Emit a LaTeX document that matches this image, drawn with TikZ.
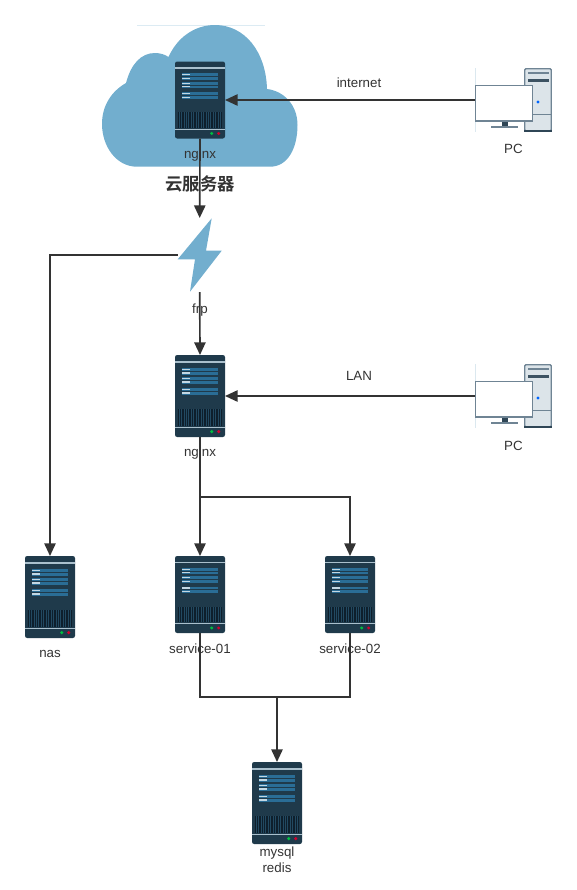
\documentclass[tikz,border=0pt]{standalone}
\usepackage{fontspec}
\setmainfont{Liberation Sans}
\newfontfamily\cjk{Noto Sans CJK SC Bold}
\usetikzlibrary{arrows.meta}
\definecolor{srvbody}{HTML}{1F3A4B}
\definecolor{srvstrip}{HTML}{2A6D96}
\definecolor{srvlight}{HTML}{C3D8E4}
\definecolor{srvdark}{HTML}{0E1F2C}
\definecolor{cloudblue}{HTML}{72AECE}
\definecolor{pcline}{HTML}{6F8494}
\definecolor{pcdark}{HTML}{2F4656}
\definecolor{pcgrey}{HTML}{DCE4E9}
\definecolor{txt}{HTML}{333333}
\tikzset{
  lbl/.style={text=txt,font=\fontsize{10pt}{12pt}\selectfont,inner sep=0pt,align=center},
  link/.style={draw=txt,line width=1.25pt},
  arrowlink/.style={link,-{Triangle[length=9.5pt,width=8.5pt]}},
}
% name, left x, top y, height
\newcommand{\srvicon}[4]{%
  \pgfmathsetmacro{\vs}{#4/82}
  \node[inner sep=0pt,outer sep=0pt,minimum width=37.5pt,minimum height=#4*0.75pt] (#1) at (#2+25,#3+#4/2) {};
  \begin{scope}[shift={(#2,#3)},yscale=\vs]
    \fill[srvbody,rounded corners=1.6pt] (0,0) rectangle (50,82);
    \fill[srvlight!85!srvbody] (0,6.3) rectangle (50,7.6);
    \fill[srvlight!85!srvbody] (0,71.6) rectangle (50,72.9);
    \foreach \t in {12.7,21.7,32.7}{
      \fill[srvstrip] (7.3,\t) rectangle (42.7,\t+2.8);
      \fill[srvstrip] (7.3,\t+3.9) rectangle (42.7,\t+6.8);
      \fill[srvlight] (7.3,\t+0.8) rectangle (14.5,\t+2);
      \fill[srvlight] (7.3,\t+4.6) rectangle (14.5,\t+5.8);
    }
    \fill[srvdark] (2.7,54) rectangle (47.3,70.7);
    \foreach \i in {0,...,17}{
      \fill[srvbody!70!srvstrip] (3.6+\i*2.45,54) rectangle (4.4+\i*2.45,70.7);
    }
    \fill[green!50!teal] (36.7,76.6) circle (1.7);
    \fill[purple!70!red] (43.7,76.6) circle (1.7);
  \end{scope}
}
% name, x offset, y offset
\newcommand{\pcicon}[3]{%
  \node[inner sep=0pt,outer sep=0pt,minimum width=57.75pt,minimum height=48pt] (#1) at (#2+513.5,#3+100) {};
  \begin{scope}[shift={(#2,#3)}]
    \draw[srvlight!60,line width=.4pt] (475,68) -- (475,132);
    \fill[pcgrey,draw=pcline,line width=1pt,rounded corners=.8pt] (524.8,68.8) rectangle (551.2,131);
    \fill[pcdark] (524,129.6) rectangle (552,132);
    \fill[pcline] (528,71.5) rectangle (548.5,74);
    \fill[pcdark!80!pcline] (528,78.5) rectangle (548.5,82);
    \draw[pcline,line width=.6pt] (524.5,114) -- (551.5,114);
    \fill[blue!60!cyan] (538,102) circle (1.7);
    \fill[pcdark] (501.5,121) rectangle (507.5,126);
    \fill[pcline] (490.5,126) rectangle (517.5,128.2);
    \fill[white,draw=pcline,line width=1.1pt] (475.7,85.5) rectangle (532.5,121);
  \end{scope}
}
\begin{document}
\begin{tikzpicture}[x=0.75pt,y=-0.75pt]
\useasboundingbox (0,0) rectangle (577,890);
% cloud
\draw[cloudblue!25,line width=.5pt] (137,25.3) -- (265,25.3);
\fill[cloudblue] (137,166.7)
  .. controls (116,166.7) and (102,146) .. (102,124)
  .. controls (102,105) and (112,91) .. (126,83)
  .. controls (131,64) and (141,53) .. (155,53)
  .. controls (160,53) and (165,54.5) .. (168.5,57)
  .. controls (177,38) and (194,25) .. (215,25)
  .. controls (245,25) and (266,52) .. (267,89)
  .. controls (284,91) and (297.5,105) .. (297.5,125)
  .. controls (297.5,148) and (288,166.7) .. (270,166.7)
  -- cycle;
% servers
\srvicon{ngxtop}{175}{61.5}{77}
\srvicon{ngxlan}{175}{355}{82}
\srvicon{nas}{25}{556}{82}
\srvicon{svcone}{175}{556}{77}
\srvicon{svctwo}{325}{556}{77}
\srvicon{db}{252}{762}{82}
% PCs
\pcicon{pcone}{0}{0}
\pcicon{pctwo}{0}{296}
% bolt
\node[inner sep=0pt,outer sep=0pt,minimum width=33pt,minimum height=55.5pt] (bolt) at (199.7,255) {};
\fill[cloudblue] (211.7,218.3) -- (177.7,259.3) -- (195,259.3) -- (190,291.7) -- (221.7,250.7) -- (206,250.7) -- cycle;
% labels
\node[lbl] (lbltop) at (200,155.5) {nginx};
\node[lbl,font=\cjk\fontsize{13pt}{15pt}\selectfont] (lblcloud) at (200,183.5) {云服务器};
\node[lbl] (lblinet) at (359,82.5) {internet};
\node[lbl] (lblpcone) at (513.5,148.5) {PC};
\node[lbl] (lblfrp) at (200,310) {frp};
\node[lbl] (lbllan) at (359,376) {LAN};
\node[lbl] (lblpctwo) at (513.5,445.5) {PC};
\node[lbl] (lblngx) at (200,453.5) {nginx};
\node[lbl] (lblnas) at (50,654) {nas};
\node[lbl] (lblone) at (200,648.5) {service-01};
\node[lbl] (lbltwo) at (350,648.5) {service-02};
\node[lbl] (lbldb) at (277,860) {mysql\\redis};
% connectors
\draw[arrowlink] (pcone.west) -- (ngxtop.east);
\draw[arrowlink] (ngxtop.south) -- (bolt.north);
\draw[arrowlink] (bolt.west) -| (nas.north);
\draw[arrowlink] (bolt.south) -- (ngxlan.north);
\draw[arrowlink] (pctwo.west) -- (ngxlan.east);
\draw[arrowlink] (ngxlan.south) -- (svcone.north);
\coordinate (split) at (200,497);
\coordinate (merge) at (277,697);
\draw[arrowlink] (split) -| (svctwo.north);
\draw[link] (svcone.south) |- (merge);
\draw[link] (svctwo.south) |- (merge);
\draw[arrowlink] (merge) -- (db.north);
\end{tikzpicture}
\end{document}
